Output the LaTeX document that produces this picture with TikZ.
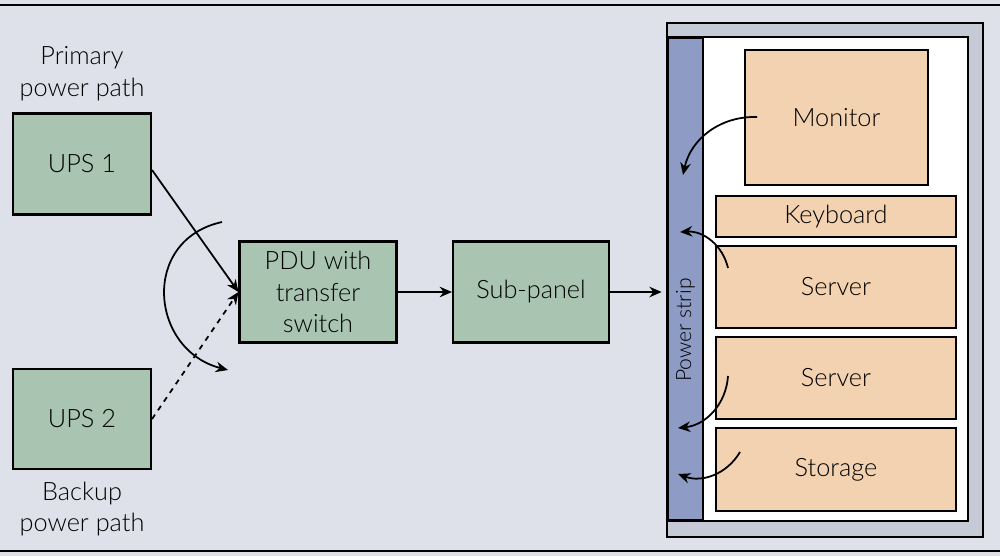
\documentclass[tikz,border=0pt]{standalone}
\usepackage{fontspec}
\setmainfont{Lato Light}
\usetikzlibrary{positioning,arrows.meta}
\definecolor{bgblue}{HTML}{DFE1EA}
\definecolor{boxgreen}{HTML}{A9C4B1}
\definecolor{boxtan}{HTML}{F2D2B0}
\definecolor{rackgray}{HTML}{C5CAD6}
\definecolor{stripblue}{HTML}{8E9BC4}
\begin{document}
\begin{tikzpicture}[
    x=0.02cm, y=-0.02cm,
    thick, text centered, font=\Large,
    gbox/.style={draw, fill=boxgreen, line width=1.2pt, inner sep=0},
    tbox/.style={draw, fill=boxtan, line width=1.2pt, inner sep=0},
    feed/.style={-{Stealth[length=7pt,width=6pt]}, line width=1pt},
  ]
  \useasboundingbox (0,0) rectangle (1000,556);
  \fill[bgblue] (0,0) rectangle (1000,556);
  \draw[line width=1.5pt] (0,5) -- (1000,5);
  \draw[line width=1.5pt] (0,551) -- (1000,551);

  % power sources
  \node[gbox, minimum width=2.76cm, minimum height=2.02cm] (ups1) at (82,164) {UPS 1};
  \node[gbox, minimum width=2.76cm, minimum height=2.00cm] (ups2) at (82,419) {UPS 2};
  \node[align=center] (prim) at (82,74) {Primary\\power path};
  \node[align=center] (back) at (82,509) {Backup\\power path};

  % distribution
  \node[gbox, minimum width=3.14cm, minimum height=2.02cm, align=center] (pdu) at (318,292) {PDU with\\transfer\\switch};
  \node[gbox, minimum width=3.12cm, minimum height=2.02cm] (sub) at (531,292) {Sub-panel};

  % rack
  \draw[fill=rackgray, line width=1.5pt] (667,23) rectangle (983,537);
  \draw[fill=white, line width=1.2pt] (668,37) rectangle (968,521);
  \node[draw, fill=stripblue, line width=1.2pt, minimum width=0.7cm, minimum height=9.66cm, inner sep=0] (strip) at (685.5,279) {};
  \node[rotate=90, font=\large] (striplabel) at (685.5,330) {Power strip};

  \node[tbox, minimum width=3.66cm, minimum height=2.7cm] (mon) at (836.5,117.5) {Monitor};
  \node[tbox, minimum width=4.8cm, minimum height=0.82cm] (kbd) at (836,216.5) {Keyboard};
  \node[tbox, minimum width=4.8cm, minimum height=1.64cm] (srv1) at (836,287) {Server};
  \node[tbox, minimum width=4.8cm, minimum height=1.64cm] (srv2) at (836,378) {Server};
  \node[tbox, minimum width=4.8cm, minimum height=1.66cm] (stor) at (836,469.5) {Storage};

  % feeds
  \draw[feed] (ups1.north east |- 0,170) -- (pdu.west);
  \draw[feed, dashed] (ups2.east) -- (pdu.west);
  \coordinate (swA) at (222,222);
  \coordinate (swB) at (228,370);
  \draw[feed] (swA) .. controls (140,240) and (150,350) .. (swB);
  \draw[feed] (pdu) -- (sub);
  \draw[feed] (sub) -- ([xshift=-3pt]strip.west |- sub);

  \coordinate (m1) at (757,117);   \coordinate (m2) at (683,175);
  \coordinate (s1) at (728,268);   \coordinate (s2) at (680,232);
  \coordinate (r1) at (728,376);   \coordinate (r2) at (678,428);
  \coordinate (t1) at (740,452);   \coordinate (t2) at (678,474);
  \draw[feed] (m1) to[bend right=40] (m2);
  \draw[feed] (s1) to[bend right=40] (s2);
  \draw[feed] (r1) to[bend left=40] (r2);
  \draw[feed] (t1) to[bend left=40] (t2);
\end{tikzpicture}
\end{document}
